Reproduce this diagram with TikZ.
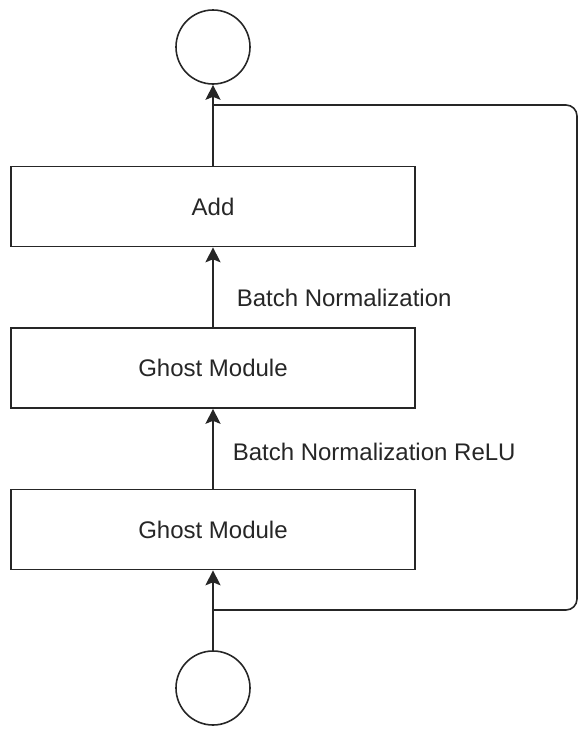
\documentclass[tikz,border=0pt]{standalone}
\usepackage{fontspec}
\setmainfont{Liberation Sans}
\usetikzlibrary{arrows.meta}
\definecolor{ink}{HTML}{262626}
\begin{document}
\begin{tikzpicture}[x=1pt,y=-1pt,
  line width=1.6pt, draw=ink,
  blk/.style={draw=ink, line width=1.6pt, minimum width=404pt, minimum height=80pt, inner sep=0pt, font=\fontsize{24}{28}\selectfont, text=ink},
  term/.style={draw=ink, line width=1.6pt, circle, minimum size=74pt, inner sep=0pt},
  lbl/.style={anchor=west, font=\fontsize{24}{28}\selectfont, text=ink, inner sep=0pt},
  arr/.style={-{Stealth[length=15pt,width=15pt,inset=3pt]}, draw=ink, line width=1.6pt}]
\useasboundingbox (0,0) rectangle (579,734);
\node[term] (out) at (213,47) {};
\node[blk] (add) at (213,206.5) {Add};
\node[blk] (gm1) at (213,368) {Ghost Module};
\node[blk] (gm2) at (213,529.5) {Ghost Module};
\node[term] (in) at (213,688) {};
\coordinate (split) at (213,610);
\coordinate (join) at (213,105);
\draw[arr] (in) -- (gm2);
\draw[arr] (gm2) -- (gm1);
\draw[arr] (gm1) -- (add);
\draw[arr] (add) -- (out);
\draw[rounded corners=11pt] (split) -- (577,610) -- (577,105) -- (join);
\node[lbl] (bn) at (236,298) {Batch Normalization};
\node[lbl] (bnr) at (232,452) {Batch Normalization ReLU};
\end{tikzpicture}
\end{document}
